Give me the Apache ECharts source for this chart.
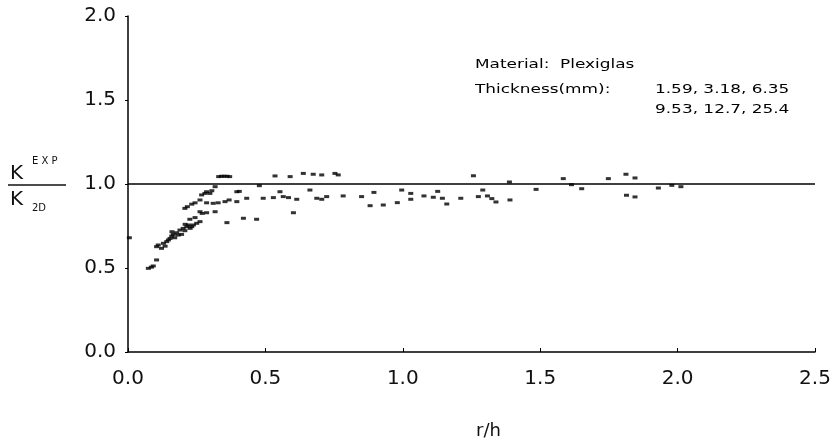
<!DOCTYPE html>
<html>
<head>
<meta charset="utf-8">
<script src="https://cdn.jsdelivr.net/npm/echarts@6/dist/echarts.min.js"></script>
<style>
  html, body { margin: 0; padding: 0; background: #fff; }
  #chart { width: 837px; height: 446px; }
</style>
</head>
<body>
<div id="chart"></div>
<script>
// values
let xTicks = [0, 0.5, 1.0, 1.5, 2.0, 2.5];
let yTicks = [0, 0.5, 1.0, 1.5, 2.0];

let rOverH = [
	0.005,
	0.074, 0.085, 0.092, 0.104,
	0.104, 0.110, 0.122, 0.129, 0.135, 0.141, 0.147, 0.153, 0.159, 0.165, 0.177, 0.183, 0.189, 0.201, 0.207,
	0.214, 0.220, 0.226, 0.232, 0.238, 0.250, 0.262, 0.160, 0.170, 0.195, 0.208, 0.225, 0.244, 0.270,
	0.207, 0.216, 0.232, 0.244, 0.262, 0.268, 0.280, 0.286, 0.298, 0.305, 0.317,
	0.262, 0.286, 0.317,
	0.286, 0.310, 0.328, 0.353, 0.368,
	0.330, 0.340, 0.350, 0.360, 0.370,
	0.396, 0.405, 0.396, 0.432,
	0.360, 0.420, 0.468, 0.602,
	0.478,
	0.492, 0.529, 0.553, 0.565, 0.584, 0.614,
	0.535, 0.590, 0.638, 0.674, 0.705, 0.753, 0.765,
	0.662, 0.687, 0.705, 0.723, 0.783,
	0.850, 0.881, 0.895, 0.929, 0.980, 0.996, 1.029, 1.029, 1.077, 1.111, 1.127, 1.144, 1.160,
	1.211, 1.257, 1.275, 1.291, 1.308, 1.324, 1.339, 1.388, 1.390, 1.485, 1.584, 1.614, 1.651,
	1.748, 1.812, 1.845, 1.814, 1.845, 1.930, 1.979, 2.012
];
let kRatio = [
	0.68,
	0.498, 0.505, 0.512, 0.548,
	0.627, 0.637, 0.617, 0.647, 0.630, 0.657, 0.667, 0.676, 0.690, 0.700, 0.710, 0.696, 0.726, 0.736, 0.722,
	0.746, 0.756, 0.736, 0.746, 0.756, 0.766, 0.776, 0.716, 0.680, 0.700, 0.760, 0.790, 0.800, 0.825,
	0.855, 0.865, 0.880, 0.888, 0.905, 0.935, 0.944, 0.954, 0.944, 0.960, 0.984,
	0.835, 0.829, 0.835,
	0.888, 0.885, 0.888, 0.895, 0.905,
	1.044, 1.046, 1.046, 1.046, 1.044,
	0.954, 0.956, 0.895, 0.915,
	0.770, 0.796, 0.790, 0.829,
	0.990,
	0.915, 0.919, 0.954, 0.925, 0.919, 0.909,
	1.048, 1.044, 1.063, 1.058, 1.054, 1.063, 1.054,
	0.964, 0.915, 0.909, 0.925, 0.929,
	0.925, 0.871, 0.950, 0.875, 0.889, 0.964, 0.944, 0.909, 0.929, 0.921, 0.956, 0.915, 0.881,
	0.915, 1.049, 0.925, 0.964, 0.929, 0.913, 0.893, 1.012, 0.905, 0.968, 1.032, 0.996, 0.972,
	1.032, 1.058, 1.036, 0.933, 0.923, 0.976, 0.992, 0.984
];
let refX = [0, 2.5];
let refY = [1.0, 1.0];

let points = rOverH.map(function (x, i) { return [x, kRatio[i]]; });
let refLine = refX.map(function (x, i) { return [x, refY[i]]; });

let chart = echarts.init(document.getElementById('chart'));
let font = 'DejaVu Sans';

// small helper for the stretched annotation text of the scan
function note(text, x, y) {
	return {
		type: 'text', x: x, y: y, scaleX: 1.3,
		style: { text: text, font: '13px "DejaVu Sans"', fill: '#000', verticalAlign: 'middle' }
	};
}

option = {
	animation: false,
	backgroundColor: '#fff',
	grid: { left: 128, right: 22, top: 16, bottom: 94 },
	xAxis: {
		type: 'value',
		min: xTicks[0],
		max: xTicks[xTicks.length - 1],
		interval: 0.5,
		axisLine: { lineStyle: { color: '#000', width: 1.5 } },
		axisTick: { inside: true, length: 4, lineStyle: { color: '#000' } },
		axisLabel: {
			margin: 17, color: '#111', fontFamily: font, fontSize: 20,
			formatter: function (v) { return v.toFixed(1); }
		},
		splitLine: { show: false }
	},
	yAxis: {
		type: 'value',
		min: yTicks[0],
		max: yTicks[yTicks.length - 1],
		interval: 0.5,
		axisLine: { show: true, lineStyle: { color: '#000', width: 1.5 } },
		axisTick: { show: true, length: 3, lineStyle: { color: '#000' } },
		axisLabel: {
			margin: 12, color: '#111', fontFamily: font, fontSize: 20,
			formatter: function (v) { return v.toFixed(1); }
		},
		splitLine: { show: false }
	},
	graphic: [
		{ type: 'text', left: 10, top: 164, style: { text: 'K', font: '20px "DejaVu Sans"', fill: '#111' } },
		{ type: 'text', left: 32, top: 156, style: { text: 'E X P', font: '10px "DejaVu Sans"', fill: '#111' } },
		{ type: 'line', shape: { x1: 8, y1: 185, x2: 66, y2: 185 }, style: { stroke: '#111', lineWidth: 1.5 } },
		{ type: 'text', left: 10, top: 190, style: { text: 'K', font: '20px "DejaVu Sans"', fill: '#111' } },
		{ type: 'text', left: 32, top: 203, style: { text: '2D', font: '10px "DejaVu Sans"', fill: '#111' } },
		note('Material:  Plexiglas', 475, 65),
		note('Thickness(mm):', 475, 90),
		note('1.59, 3.18, 6.35', 655, 90),
		note('9.53, 12.7, 25.4', 655, 110),
		{ type: 'text', left: 476, top: 422, style: { text: 'r/h', font: '18px "DejaVu Sans"', fill: '#111' } }
	],
	series: [
		{
			type: 'line',
			data: refLine,
			symbol: 'none',
			lineStyle: { color: '#000', width: 1.5 },
			z: 1
		},
		{
			type: 'scatter',
			data: points,
			symbol: 'rect',
			symbolSize: [5, 3],
			itemStyle: { color: '#000' },
			z: 2
		}
	]
};

chart.setOption(option, true);
</script>
</body>
</html>
